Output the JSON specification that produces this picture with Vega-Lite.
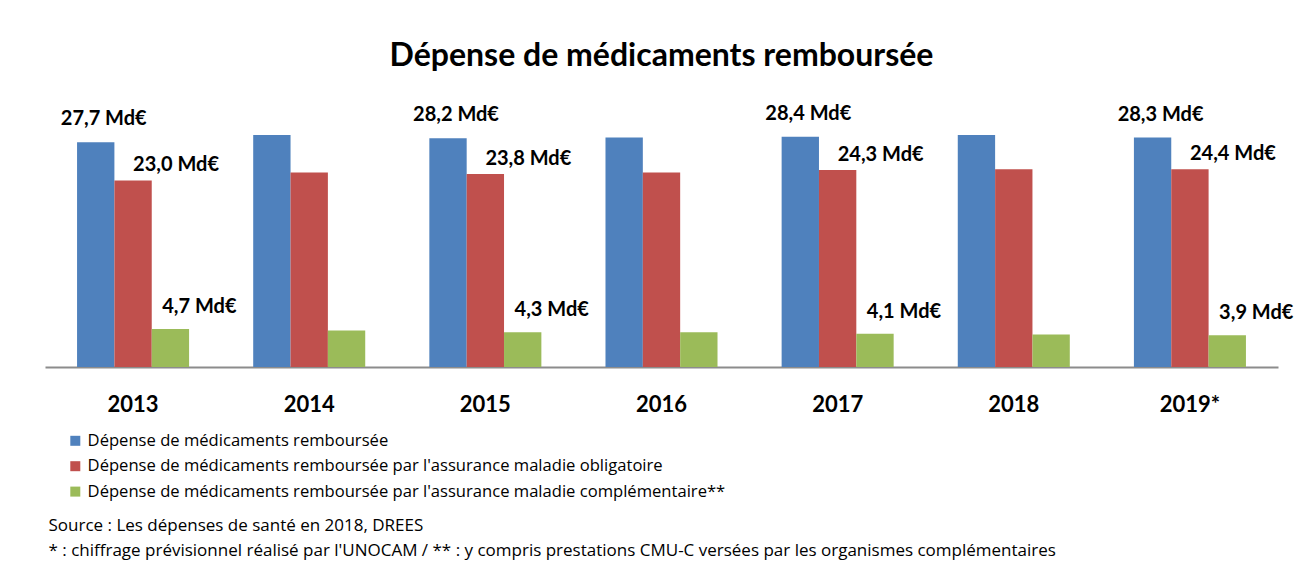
{
  "$schema": "https://vega.github.io/schema/vega-lite/v6.json",
  "autosize": "none",
  "width": 1233,
  "height": 259.5,
  "padding": {"left": 45, "top": 107.5, "right": 18, "bottom": 195},
  "background": "white",
  "config": {
    "font": "Lato",
    "view": {"stroke": null}
  },
  "title": {
    "text": "Dépense de médicaments remboursée",
    "fontSize": 32,
    "fontWeight": "bold",
    "color": "#000000",
    "anchor": "middle",
    "offset": 31
  },
  "data": {
    "values": [
      {"annee": "2013", "serie": "Dépense de médicaments remboursée", "valeur": 27.7, "label": "27,7 Md€"},
      {"annee": "2013", "serie": "Dépense de médicaments remboursée par l'assurance maladie obligatoire", "valeur": 23.0, "label": "23,0 Md€"},
      {"annee": "2013", "serie": "Dépense de médicaments remboursée par l'assurance maladie complémentaire**", "valeur": 4.7, "label": "4,7 Md€"},
      {"annee": "2014", "serie": "Dépense de médicaments remboursée", "valeur": 28.6, "label": ""},
      {"annee": "2014", "serie": "Dépense de médicaments remboursée par l'assurance maladie obligatoire", "valeur": 24.0, "label": ""},
      {"annee": "2014", "serie": "Dépense de médicaments remboursée par l'assurance maladie complémentaire**", "valeur": 4.5, "label": ""},
      {"annee": "2015", "serie": "Dépense de médicaments remboursée", "valeur": 28.2, "label": "28,2 Md€"},
      {"annee": "2015", "serie": "Dépense de médicaments remboursée par l'assurance maladie obligatoire", "valeur": 23.8, "label": "23,8 Md€"},
      {"annee": "2015", "serie": "Dépense de médicaments remboursée par l'assurance maladie complémentaire**", "valeur": 4.3, "label": "4,3 Md€"},
      {"annee": "2016", "serie": "Dépense de médicaments remboursée", "valeur": 28.3, "label": ""},
      {"annee": "2016", "serie": "Dépense de médicaments remboursée par l'assurance maladie obligatoire", "valeur": 24.0, "label": ""},
      {"annee": "2016", "serie": "Dépense de médicaments remboursée par l'assurance maladie complémentaire**", "valeur": 4.3, "label": ""},
      {"annee": "2017", "serie": "Dépense de médicaments remboursée", "valeur": 28.4, "label": "28,4 Md€"},
      {"annee": "2017", "serie": "Dépense de médicaments remboursée par l'assurance maladie obligatoire", "valeur": 24.3, "label": "24,3 Md€"},
      {"annee": "2017", "serie": "Dépense de médicaments remboursée par l'assurance maladie complémentaire**", "valeur": 4.1, "label": "4,1 Md€"},
      {"annee": "2018", "serie": "Dépense de médicaments remboursée", "valeur": 28.6, "label": ""},
      {"annee": "2018", "serie": "Dépense de médicaments remboursée par l'assurance maladie obligatoire", "valeur": 24.4, "label": ""},
      {"annee": "2018", "serie": "Dépense de médicaments remboursée par l'assurance maladie complémentaire**", "valeur": 4.0, "label": ""},
      {"annee": "2019*", "serie": "Dépense de médicaments remboursée", "valeur": 28.3, "label": "28,3 Md€"},
      {"annee": "2019*", "serie": "Dépense de médicaments remboursée par l'assurance maladie obligatoire", "valeur": 24.4, "label": "24,4 Md€"},
      {"annee": "2019*", "serie": "Dépense de médicaments remboursée par l'assurance maladie complémentaire**", "valeur": 3.9, "label": "3,9 Md€"}
    ]
  },
  "encoding": {
    "x": {
      "field": "annee",
      "type": "nominal",
      "sort": null,
      "scale": {"paddingInner": 0.364, "paddingOuter": 0.182},
      "axis": {
        "title": ["Source :  Les dépenses de santé en 2018, DREES", "* : chiffrage prévisionnel réalisé par l'UNOCAM / ** : y compris prestations CMU-C versées par les organismes complémentaires"],
        "titleFont": "Open Sans",
        "titleAnchor": "start",
        "titleAlign": "left",
        "titleBaseline": "top",
        "titleX": 3,
        "titleY": 150,
        "titleLineHeight": 25,
        "titleFontSize": 17,
        "titleFontWeight": "normal",
        "titleColor": "#000000",
        "labelAngle": 0,
        "labelFontSize": 22,
        "labelFontWeight": "bold",
        "labelColor": "#000000",
        "labelPadding": 27,
        "ticks": false,
        "domainColor": "#8c8c8c",
        "domainWidth": 2
      }
    },
    "xOffset": {
      "field": "serie",
      "type": "nominal",
      "sort": null,
      "scale": {"paddingInner": 0, "paddingOuter": 0}
    },
    "y": {
      "field": "valeur",
      "type": "quantitative",
      "scale": {"domain": [0, 32], "nice": false},
      "axis": null
    }
  },
  "layer": [
    {
      "mark": {"type": "bar"},
      "encoding": {
        "color": {
          "field": "serie",
          "type": "nominal",
          "sort": null,
          "scale": {
            "domain": ["Dépense de médicaments remboursée", "Dépense de médicaments remboursée par l'assurance maladie obligatoire", "Dépense de médicaments remboursée par l'assurance maladie complémentaire**"],
            "range": ["#4F81BD", "#C0504D", "#9BBB59"]
          },
          "legend": {
            "title": null,
            "orient": "none",
            "legendX": 22,
            "legendY": 325,
            "symbolType": "square",
            "symbolSize": 100,
            "symbolStrokeWidth": 0,
            "labelFont": "Open Sans",
            "labelFontSize": 16.6,
            "labelColor": "#000000",
            "labelOffset": 4,
            "labelLimit": 1000,
            "rowPadding": 8.4,
            "padding": 0
          }
        }
      }
    },
    {
      "transform": [{"filter": "datum.serie === 'Dépense de médicaments remboursée' && datum.label !== ''"}],
      "mark": {"type": "text", "fontSize": 20, "fontWeight": "bold", "color": "#000000", "dx": 8, "dy": -23, "baseline": "middle"},
      "encoding": {"text": {"field": "label"}}
    },
    {
      "transform": [{"filter": "datum.serie === \"Dépense de médicaments remboursée par l'assurance maladie obligatoire\" && datum.label !== ''"}],
      "mark": {"type": "text", "fontSize": 20, "fontWeight": "bold", "color": "#000000", "dx": 43, "dy": -15, "baseline": "middle"},
      "encoding": {"text": {"field": "label"}}
    },
    {
      "transform": [{"filter": "datum.serie === \"Dépense de médicaments remboursée par l'assurance maladie complémentaire**\" && datum.label !== ''"}],
      "mark": {"type": "text", "fontSize": 20, "fontWeight": "bold", "color": "#000000", "dx": 29, "dy": -22, "baseline": "middle"},
      "encoding": {"text": {"field": "label"}}
    }
  ]
}
